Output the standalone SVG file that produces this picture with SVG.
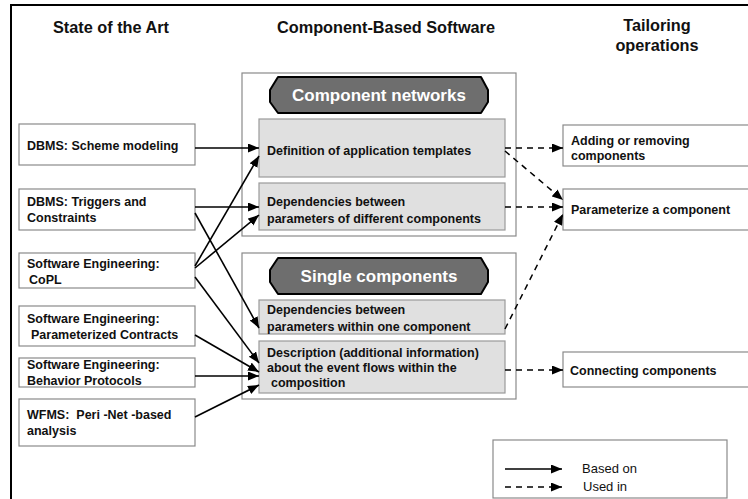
<svg xmlns="http://www.w3.org/2000/svg" width="748" height="499" viewBox="0 0 748 499">
  <style>
    .head { font-family: "Liberation Sans", Arial, sans-serif; font-size: 16.3px; font-weight: bold; fill: #111; text-anchor: middle; }
    .lbl { font-family: "Liberation Sans", Arial, sans-serif; font-size: 12.5px; font-weight: bold; fill: #111; }
    .tag { font-family: "Liberation Sans", Arial, sans-serif; font-size: 17px; font-weight: bold; fill: #fff; text-anchor: middle; }
    .leg { font-family: "Liberation Sans", Arial, sans-serif; font-size: 13px; fill: #111; }
    .box { fill: #fff; stroke: #8a8a8a; stroke-width: 1.2; }
    .grp { fill: #fff; stroke: #8a8a8a; stroke-width: 1.2; }
    .inner { fill: #e0e0e0; stroke: #9a9a9a; stroke-width: 1.2; }
    .hex { fill: #6e6e6e; stroke: #000; stroke-width: 2; stroke-linejoin: round; }
    .based { fill: none; stroke: #000; stroke-width: 1.6; marker-end: url(#head); }
    .used { fill: none; stroke: #000; stroke-width: 1.5; stroke-dasharray: 6 5; marker-end: url(#head); }
  </style>
  <defs>
    <marker id="head" markerUnits="userSpaceOnUse" markerWidth="12" markerHeight="10" refX="11" refY="4.5" orient="auto">
      <path d="M0,0 L11,4.5 L0,9 z" fill="#000"/>
    </marker>
  </defs>

  <rect width="748" height="499" fill="#fff"/>
  <!-- outer frame (left and top edges) -->
  <path d="M11,499 V5 H748" fill="none" stroke="#000" stroke-width="2"/>

  <!-- column headings -->
  <text class="head" x="111" y="33">State of the Art</text>
  <text class="head" x="386" y="33">Component-Based Software</text>
  <text class="head" x="657" y="31">Tailoring</text>
  <text class="head" x="657" y="51">operations</text>

  <!-- state of the art -->
  <g id="dbms-scheme">
    <rect class="box" x="19" y="124" width="176" height="41"/>
    <text class="lbl" x="27" y="150">DBMS: Scheme modeling</text>
  </g>
  <g id="dbms-triggers">
    <rect class="box" x="19" y="189" width="176" height="41"/>
    <text class="lbl" x="27" y="206">DBMS: Triggers and</text>
    <text class="lbl" x="27" y="222">Constraints</text>
  </g>
  <g id="se-copl">
    <rect class="box" x="19" y="253" width="176" height="35"/>
    <text class="lbl" x="27" y="268">Software Engineering:</text>
    <text class="lbl" x="29" y="284">CoPL</text>
  </g>
  <g id="se-contracts">
    <rect class="box" x="19" y="306" width="176" height="40"/>
    <text class="lbl" x="27" y="323">Software Engineering:</text>
    <text class="lbl" x="31" y="339">Parameterized Contracts</text>
  </g>
  <g id="se-protocols">
    <rect class="box" x="19" y="358" width="176" height="29"/>
    <text class="lbl" x="27" y="369">Software Engineering:</text>
    <text class="lbl" x="27" y="385">Behavior Protocols</text>
  </g>
  <g id="wfms">
    <rect class="box" x="19" y="399" width="176" height="47"/>
    <text class="lbl" x="27" y="419" xml:space="preserve">WFMS:  Peri -Net -based</text>
    <text class="lbl" x="27" y="435">analysis</text>
  </g>

  <!-- component networks -->
  <g id="component-networks">
    <rect class="grp" x="242" y="73" width="274" height="163"/>
    <path class="hex" d="M278,77 H481 L488,90 V102 L481,113 H278 L270,102 V90 Z"/>
    <text class="tag" x="379" y="101">Component networks</text>
  </g>
  <g id="app-templates">
    <rect class="inner" x="259" y="119" width="246" height="58"/>
    <text class="lbl" x="267" y="155">Definition of application templates</text>
  </g>
  <g id="deps-different">
    <rect class="inner" x="259" y="183" width="246" height="47"/>
    <text class="lbl" x="267" y="206">Dependencies between</text>
    <text class="lbl" x="267" y="223">parameters of different components</text>
  </g>

  <!-- single components -->
  <g id="single-components">
    <rect class="grp" x="242" y="253" width="274" height="146"/>
    <path class="hex" d="M278,258 H481 L488,270 V282 L481,294 H278 L270,282 V270 Z"/>
    <text class="tag" x="379" y="282">Single components</text>
  </g>
  <g id="deps-within">
    <rect class="inner" x="259" y="300" width="246" height="34"/>
    <text class="lbl" x="267" y="314">Dependencies between</text>
    <text class="lbl" x="267" y="331">parameters within one component</text>
  </g>
  <g id="event-flows">
    <rect class="inner" x="259" y="341" width="246" height="52"/>
    <text class="lbl" x="267" y="357">Description (additional information)</text>
    <text class="lbl" x="267" y="372">about the event flows within the</text>
    <text class="lbl" x="271" y="387">composition</text>
  </g>

  <!-- tailoring operations -->
  <g id="add-remove">
    <rect class="box" x="563" y="125" width="200" height="41"/>
    <text class="lbl" x="571" y="145">Adding or removing</text>
    <text class="lbl" x="571" y="160">components</text>
  </g>
  <g id="parameterize">
    <rect class="box" x="563" y="189" width="200" height="41"/>
    <text class="lbl" x="571" y="214">Parameterize a component</text>
  </g>
  <g id="connecting">
    <rect class="box" x="563" y="352" width="200" height="35"/>
    <text class="lbl" x="570" y="375">Connecting components</text>
  </g>

  <!-- connectors -->
  <g id="connectors">
    <line class="based" x1="195" y1="148" x2="259" y2="148"/>
    <line class="based" x1="195" y1="207" x2="259" y2="207"/>
    <line class="based" x1="195" y1="213" x2="259" y2="328"/>
    <line class="based" x1="195" y1="266" x2="259" y2="156"/>
    <line class="based" x1="195" y1="268" x2="259" y2="215"/>
    <line class="based" x1="195" y1="277" x2="259" y2="363"/>
    <line class="based" x1="195" y1="335" x2="259" y2="372"/>
    <line class="based" x1="195" y1="376" x2="259" y2="376"/>
    <line class="based" x1="195" y1="417" x2="259" y2="385"/>

    <line class="used" x1="505" y1="148" x2="563" y2="148"/>
    <line class="used" x1="505" y1="151" x2="563" y2="200"/>
    <line class="used" x1="505" y1="207" x2="563" y2="207"/>
    <line class="used" x1="505" y1="329" x2="563" y2="214"/>
    <line class="used" x1="505" y1="370" x2="563" y2="370"/>
  </g>

  <!-- legend -->
  <g id="legend">
    <rect class="box" x="493" y="440" width="234" height="58"/>
    <line class="based" x1="505" y1="469" x2="562" y2="469"/>
    <line class="used" x1="505" y1="487" x2="562" y2="487"/>
    <text class="leg" x="582" y="473">Based on</text>
    <text class="leg" x="583" y="491">Used in</text>
  </g>
</svg>
